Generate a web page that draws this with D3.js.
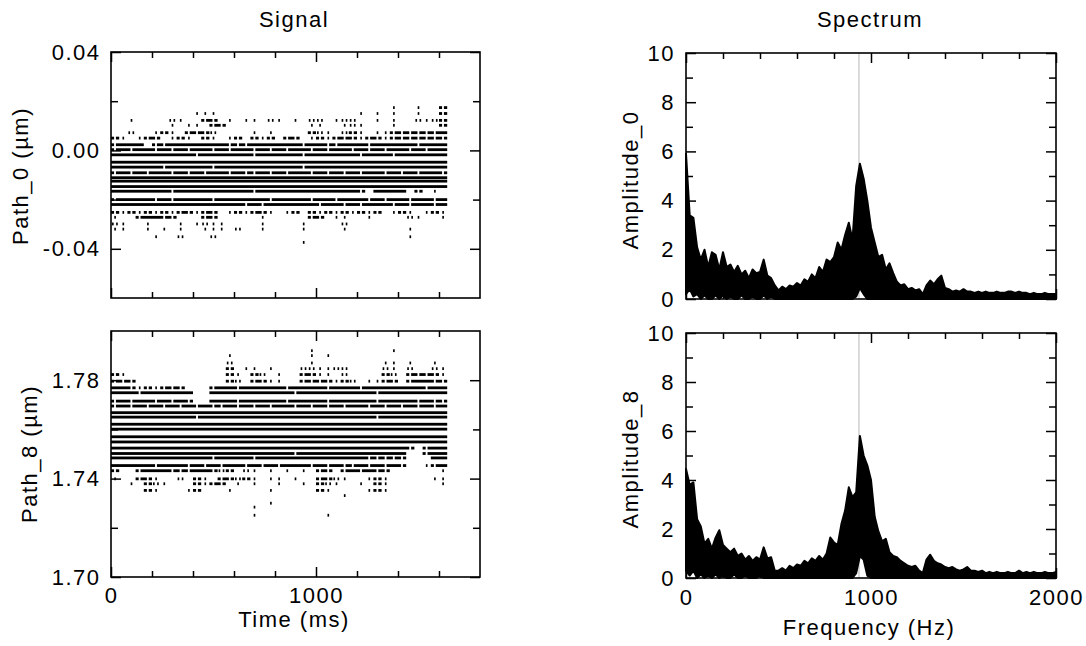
<!DOCTYPE html>
<html>
<head>
<meta charset="utf-8">
<script src="https://cdn.jsdelivr.net/npm/d3@7"></script>
<style>
  body { margin: 0; background: #fff; }
  svg text { font-family: "Liberation Sans", Arial, sans-serif; font-size: 22px; letter-spacing: 1.5px; fill: #000; }
  .axis line { stroke: #000; stroke-width: 1.5; }
</style>
</head>
<body>
<svg id="chart" width="1086" height="646"></svg>
<script>

// signal: each row is one quantised level, one character per 40 ms bin
// '#' full run, '-' broken run, ':' two dots, '.' one dot
var binMs = 40;

var levels0 = [0.0174, 0.0150, 0.0122, 0.0102, 0.0072, 0.0050, 0.0023, 0.0003, -0.0018, -0.0048,
  -0.0068, -0.0091, -0.0111, -0.0125, -0.0147, -0.0166, -0.0200, -0.0220, -0.0252, -0.0272,
  -0.0299, -0.0320, -0.0351, -0.0374];
var rows0 = [
  "                                  .  .  -",
  "          ...                 . . .  .  -",
  "  .    :.  -- . .. :. . :: .::  . .  :.:-",
  "       . .. --          ..  .:.   .     -",
  "  :  .-. ---:    . .    -:. :-. ..------#",
  "-. .-- .-. -. .- -.- -- .-.---.--.-------",
  "-### --#######---######-##--###-#####-###",
  "-#-##-#-#-##-#-##-#-#-##-#-##-#-#-##-#-##",
  "##########-######-#####-######-###-######",
  "#########################################",
  "######-#####-##########-#################",
  "-#-#-##-#-#-##-#--#-#-##-#-#-#-##-#-#-##-",
  "#########################################",
  "#########################################",
  "#########################################",
  "#######-#########-############- #### - . ",
  "-####-#-####-######-####-##-###-#-##-##-#",
  "################-#-######-##-#-###-#-##-#",
  "-.-.-.-.--.-- .-.--. .- -.-.-.-.- .-. .-.",
  ".  -##--   --     .     -- ..  .    :.  .",
  ":.  .   . .:..    .    .    :            ",
  "..  . . .  ... :  .    .    .       .    ",
  "     .  :   :                       .    ",
  "                       .                 "
];

var levels8 = [1.7920, 1.7900, 1.7870, 1.7847, 1.7823, 1.7796, 1.7769, 1.7749, 1.7715, 1.7695,
  1.7668, 1.7650, 1.7621, 1.7601, 1.7570, 1.7549, 1.7524, 1.7502, 1.7484, 1.7453,
  1.7432, 1.7399, 1.7379, 1.7352, 1.7331, 1.7300, 1.7284, 1.7251];
var rows8 = [
  "                        .         .      ",
  "              .         . .              ",
  "              :         .        .. .  . ",
  "              - .. .   ::..::    :. :  :.",
  "-.            -. -: .  --.. :    -: ----.",
  "---           -: --..  ----.-: ..-- -##--",
  "##-.-.---   -##-#####-####-###-#######-##",
  "###-######  ##########-#########-########",
  "-#-##-#-#-  ###-#####-####-#####-####-#--",
  "-#-#-#-#-#-#--#-#-#-##-#-#-#-##-#-#-#-#-#",
  "#########################################",
  "##########-#####################-########",
  "#########################################",
  "#########################################",
  "#########################################",
  "#########################################",
  "####################################- -##",
  "######################-#############  -##",
  "############-####-#############-----   ##",
  "#####-###-#-#-##-#-#-###-#-#--#-#-#-  .-#",
  "-  -###---##-:- :. . . . -- -#-#--      .",
  ".  --.  : -. --:-. .. .  --:.  .-.     ..",
  "  . -:.   -.-- . .  .  . -:.  . -.      .",
  "    -.   .-   .    .     -.    .-.       ",
  "                            .            ",
  "                   .                     ",
  "                 .                       ",
  "                 .        .              "
];

// spectrum: upper and lower edge of the trace, every 20 Hz from 0 to 2000 Hz
var freqStep = 20;
var amp0Hi = [
  5.9, 3.4, 3.3, 2.1, 1.6, 2.0, 1.3, 1.9, 1.8, 1.2,
  1.9, 1.3, 1.4, 1.1, 1.35, 1.0, 1.15, 0.85, 1.2, 1.05,
  1.1, 1.6, 0.95, 0.85, 0.55, 0.35, 0.5, 0.4, 0.55, 0.5,
  0.65, 0.55, 0.8, 0.7, 1.0, 0.85, 1.3, 1.1, 1.6, 1.5,
  1.7, 2.3, 2.0, 2.6, 3.1, 2.4, 4.6, 5.5, 4.9, 4.0,
  2.9, 2.3, 1.7, 1.8, 1.2, 1.45, 1.05, 0.7, 0.55, 0.6,
  0.4, 0.45, 0.35, 0.4, 0.2, 0.55, 0.75, 0.6, 0.8, 0.95,
  0.45, 0.4, 0.3, 0.35, 0.3, 0.4, 0.3, 0.3, 0.25, 0.3,
  0.25, 0.3, 0.25, 0.25, 0.3, 0.25, 0.25, 0.3, 0.3, 0.25,
  0.3, 0.25, 0.25, 0.2, 0.25, 0.2, 0.2, 0.25, 0.2, 0.2,
  0.2
];
var amp0Lo = [
  0.2, 0.4, 0.1, 0.2, 0, 0.15, 0, 0, 0.15, 0,
  0.15, 0, 0.1, 0, 0, 0.15, 0, 0, 0.1, 0,
  0, 0.15, 0, 0.1, 0, 0, 0, 0, 0, 0,
  0, 0, 0, 0, 0, 0, 0, 0, 0, 0,
  0, 0, 0, 0, 0, 0, 0.1, 0.45, 0.2, 0,
  0, 0, 0, 0, 0, 0, 0, 0, 0, 0,
  0, 0, 0, 0, 0, 0, 0, 0, 0, 0,
  0, 0, 0, 0, 0, 0, 0, 0, 0, 0,
  0, 0, 0, 0, 0, 0, 0, 0, 0, 0,
  0, 0, 0, 0, 0, 0, 0, 0, 0, 0,
  0
];
var amp8Hi = [
  4.45, 3.8, 3.9, 2.4, 2.1, 1.4, 1.6, 1.2, 1.65, 1.95,
  1.35, 1.2, 1.05, 1.2, 0.9, 1.0, 0.75, 0.9, 0.7, 0.85,
  0.75, 1.25, 0.8, 0.85, 0.3, 0.3, 0.4, 0.3, 0.5, 0.4,
  0.55, 0.5, 0.7, 0.6, 0.8, 0.7, 0.9, 0.75, 1.0, 1.65,
  1.45, 1.35, 2.2, 2.75, 3.7, 3.3, 3.5, 5.8, 5.0, 4.6,
  4.0, 2.5, 1.9, 1.5, 1.6, 1.05, 0.9, 0.85, 0.7, 0.6,
  0.5, 0.45, 0.5, 0.3, 0.2, 0.75, 0.95, 0.7, 0.6, 0.55,
  0.45, 0.4, 0.45, 0.35, 0.3, 0.35, 0.45, 0.3, 0.3, 0.25,
  0.3, 0.2, 0.25, 0.2, 0.25, 0.2, 0.2, 0.25, 0.2, 0.2,
  0.3, 0.2, 0.25, 0.2, 0.25, 0.2, 0.2, 0.25, 0.2, 0.2,
  0.25
];
var amp8Lo = [
  0.3, 0.1, 0.3, 0, 0.15, 0, 0.1, 0, 0.15, 0,
  0.1, 0, 0, 0.15, 0, 0, 0.1, 0, 0, 0,
  0.1, 0, 0, 0, 0, 0, 0, 0, 0, 0,
  0, 0, 0, 0, 0, 0, 0, 0, 0, 0,
  0, 0, 0, 0, 0, 0, 0.2, 0.9, 0.75, 0.1,
  0, 0, 0, 0, 0, 0, 0, 0, 0, 0,
  0, 0, 0, 0, 0, 0, 0, 0, 0, 0,
  0, 0, 0, 0, 0, 0, 0, 0, 0, 0,
  0, 0, 0, 0, 0, 0, 0, 0, 0, 0,
  0, 0, 0, 0, 0, 0, 0, 0, 0, 0,
  0
];
var peakFreq = 935;

// tick values
var sigTimeMajor = [0, 1000];
var sigTimeMinor = [200, 400, 600, 800, 1200, 1400, 1600];
var path0Major = [-0.04, 0.00, 0.04];
var path0Minor = [-0.02, 0.02];
var path8Major = [1.70, 1.74, 1.78];
var path8Minor = [1.72, 1.76];
var freqMajor = [0, 1000, 2000];
var freqMinor = [200, 400, 600, 800, 1200, 1400, 1600, 1800];
var ampMajor = [0, 2, 4, 6, 8, 10];
var ampMinor = [1, 3, 5, 7, 9];

var svg = d3.select("#chart");

// scales
var sigX = d3.scaleLinear().domain([0, 1800]).range([111, 480]);
var sigY0 = d3.scaleLinear().domain([-0.06, 0.04]).range([298, 52]);
var sigY8 = d3.scaleLinear().domain([1.70, 1.80]).range([577, 331]);
var spX = d3.scaleLinear().domain([0, 2000]).range([686, 1056]);
var spY0 = d3.scaleLinear().domain([0, 10]).range([299, 53]);
var spY8 = d3.scaleLinear().domain([0, 10]).range([578, 333]);

var marks = {"#": [[0, 40]], "-": [[0, 15], [24, 40]], ":": [[5, 13], [25, 33]], ".": [[16, 24]]};

function drawSignal(levels, rows, x, y) {
  var segs = [];
  rows.forEach(function(row, i) {
    row.slice(0, 41).split("").forEach(function(c, k) {
      (marks[c] || []).forEach(function(p) {
        var a = k * binMs + p[0], b = k * binMs + p[1];
        var last = segs[segs.length - 1];
        // join touching pieces so solid rows have no seams
        if (last && last.v == levels[i] && last.b >= a) { last.b = b; }
        else { segs.push({v: levels[i], a: a, b: b}); }
      });
    });
  });
  svg.append("g").selectAll("rect")
    .data(segs)
    .enter()
    .append("rect")
    .attr("x", function(d) { return x(d.a); })
    .attr("width", function(d) { return x(d.b) - x(d.a); })
    .attr("y", function(d) { return y(d.v) - 1.4; })
    .attr("height", 2.8)
    .attr("fill", "#000");
}

function drawSpectrum(hi, lo, x, y) {
  var pts = hi.map(function(h, i) { return {f: i * freqStep, hi: h, lo: lo[i]}; });

  // grey marker line at the resonance
  svg.append("line")
    .attr("x1", x(peakFreq)).attr("x2", x(peakFreq))
    .attr("y1", y(0)).attr("y2", y(10))
    .attr("stroke", "#cfcfcf")
    .attr("stroke-width", 1.5);

  var area = d3.area()
    .x(function(d) { return x(d.f); })
    .y0(function(d) { return y(d.lo); })
    .y1(function(d) { return y(d.hi); });

  svg.append("path")
    .datum(pts)
    .attr("d", area)
    .attr("fill", "#000")
    .attr("stroke", "#000")
    .attr("stroke-width", 2)
    .attr("stroke-linejoin", "round");
}

// ticks inward on all four sides, then the box
function frame(x, y, o) {
  var left = x.range()[0], right = x.range()[1];
  var top = y.range()[1], bottom = y.range()[0];
  var none = function() { return ""; };

  function put(axis, tx, ty) {
    svg.append("g")
      .attr("class", "axis")
      .attr("transform", "translate(" + [tx, ty] + ")")
      .call(axis)
      .call(function(g) { g.select(".domain").remove(); });
  }

  put(d3.axisLeft(y).tickValues(o.yMajor).tickSize(-10).tickPadding(o.yPad).tickFormat(o.yFmt), left, 0);
  put(d3.axisLeft(y).tickValues(o.yMinor).tickSize(-7).tickFormat(none), left, 0);
  put(d3.axisRight(y).tickValues(o.yMajor).tickSize(-10).tickFormat(none), right, 0);
  put(d3.axisRight(y).tickValues(o.yMinor).tickSize(-7).tickFormat(none), right, 0);
  put(d3.axisBottom(x).tickValues(o.xMajor).tickSize(-10).tickPadding(o.xPad).tickFormat(o.xLabels ? d3.format("d") : none), 0, bottom);
  put(d3.axisBottom(x).tickValues(o.xMinor).tickSize(-6).tickFormat(none), 0, bottom);
  put(d3.axisTop(x).tickValues(o.xMajor).tickSize(-10).tickFormat(none), 0, top);
  put(d3.axisTop(x).tickValues(o.xMinor).tickSize(-6).tickFormat(none), 0, top);

  svg.append("rect")
    .attr("x", left).attr("y", top)
    .attr("width", right - left).attr("height", bottom - top)
    .attr("fill", "none")
    .attr("stroke", "#000")
    .attr("stroke-width", 1.6);
}

var fix2 = function(d) { return d.toFixed(2); };

drawSignal(levels0, rows0, sigX, sigY0);
drawSignal(levels8, rows8, sigX, sigY8);
drawSpectrum(amp0Hi, amp0Lo, spX, spY0);
drawSpectrum(amp8Hi, amp8Lo, spX, spY8);

frame(sigX, sigY0, {xMajor: sigTimeMajor, xMinor: sigTimeMinor, yMajor: path0Major, yMinor: path0Minor, yFmt: fix2, yPad: 10.5, xPad: 10, xLabels: false});
frame(sigX, sigY8, {xMajor: sigTimeMajor, xMinor: sigTimeMinor, yMajor: path8Major, yMinor: path8Minor, yFmt: fix2, yPad: 10.5, xPad: 10, xLabels: true});
frame(spX, spY0, {xMajor: freqMajor, xMinor: freqMinor, yMajor: ampMajor, yMinor: ampMinor, yFmt: d3.format("d"), yPad: 11, xPad: 11, xLabels: false});
frame(spX, spY8, {xMajor: freqMajor, xMinor: freqMinor, yMajor: ampMajor, yMinor: ampMinor, yFmt: d3.format("d"), yPad: 11, xPad: 11, xLabels: true});

// titles and axis labels
function label(txt, x, y, rot) {
  svg.append("text")
    .attr("text-anchor", "middle")
    .attr("transform", "translate(" + [x, y] + ")" + (rot ? " rotate(-90)" : ""))
    .text(txt);
}
label("Signal", 294, 27);
label("Spectrum", 870, 27);
label("Time (ms)", 294, 627);
label("Frequency (Hz)", 869, 635);
label("Path_0 (\u00b5m)", 28, 176, true);
label("Path_8 (\u00b5m)", 37, 454, true);
label("Amplitude_0", 638, 180, true);
label("Amplitude_8", 638, 459, true);

</script>
</body>
</html>
